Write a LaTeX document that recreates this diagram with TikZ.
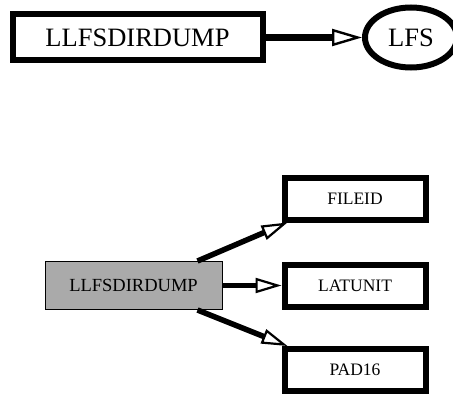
\documentclass[tikz,border=0pt]{standalone}
\usepackage{fontspec}
\setmainfont{Liberation Serif}
\usetikzlibrary{arrows.meta,shapes.geometric}
\definecolor{boxgray}{RGB}{170,170,170}
\tikzset{
  bigbox/.style={draw, line width=6pt, minimum width=250pt, minimum height=46pt,
    inner sep=0pt, font=\fontsize{26.5}{29}\selectfont},
  bigoval/.style={draw, ellipse, line width=6pt, minimum width=92pt, minimum height=60pt,
    inner sep=0pt, font=\fontsize{26.5}{29}\selectfont},
  leafbox/.style={draw, line width=6pt, minimum width=141pt, minimum height=42pt,
    inner sep=0pt, font=\fontsize{17.5}{20}\selectfont},
  rootbox/.style={draw, line width=1pt, fill=boxgray, minimum width=177pt, minimum height=48pt,
    inner sep=0pt, font=\fontsize{18.5}{21}\selectfont},
  bigarrow/.style={line width=6.5pt, -{Triangle[open, length=30pt, width=17pt, line width=2.4pt]}},
  smallarrow/.style={line width=5.5pt, -{Triangle[open, length=26pt, width=15pt, line width=2.2pt]}},
}
\begin{document}
\begin{tikzpicture}[x=1pt, y=-1pt]
  \useasboundingbox (0,0) rectangle (453,396);
  % upper graph: module and its file
  \node[bigbox] (dump) at (137.5,37.5) {LLFSDIRDUMP};
  \node[bigoval] (lfs) at (411,37.5) {LFS};
  \draw[bigarrow] (dump) -- (lfs);
  % lower graph: record and its fields
  \node[rootbox] (rec) at (133.5,285.5) {LLFSDIRDUMP};
  \node[leafbox] (fileid) at (355,198.5) {FILEID};
  \node[leafbox] (latunit) at (355,285.5) {LATUNIT};
  \node[leafbox] (pad) at (355,370) {PAD16};
  \draw[smallarrow] ([xshift=-25pt]rec.north east) -- ([xshift=6pt]fileid.south west);
  \draw[smallarrow] (rec) -- (latunit);
  \draw[smallarrow] ([xshift=-25pt]rec.south east) -- ([xshift=6pt]pad.north west);
\end{tikzpicture}
\end{document}
